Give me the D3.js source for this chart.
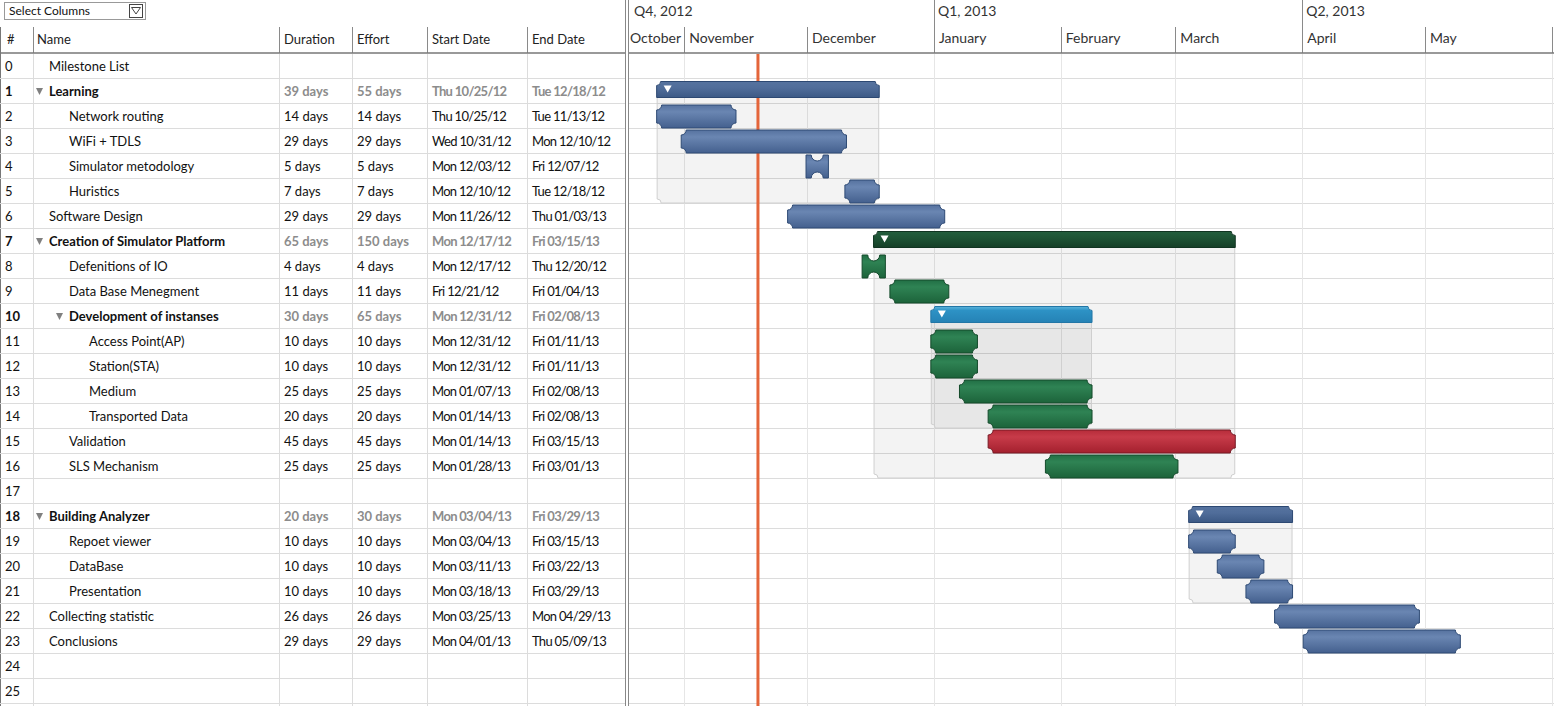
<!DOCTYPE html>
<html>
<head>
<meta charset="utf-8">
<script src="https://cdn.jsdelivr.net/npm/d3@7"></script>
<style>
  html, body { margin: 0; padding: 0; background: #fff; }
  svg { display: block; font-family: Lato, "Open Sans", sans-serif; }
</style>
</head>
<body>
<svg id="chart" width="1554" height="706"></svg>
<script>
// ---------------- DATA ----------------
const rowIds = d3.range(26);
const names = ["Milestone List","Learning","Network routing","WiFi + TDLS","Simulator metodology","Huristics",
  "Software Design","Creation of Simulator Platform","Defenitions of IO","Data Base Menegment",
  "Development of instanses","Access Point(AP)","Station(STA)","Medium","Transported Data","Validation",
  "SLS Mechanism","","Building Analyzer","Repoet viewer","DataBase","Presentation","Collecting statistic",
  "Conclusions","",""];
const levels = [0,0,1,1,1,1,0,0,1,1,1,2,2,2,2,1,1,0,0,1,1,1,0,0,0,0];
const summaryRows = [1,7,10,18];
const durations = ["","39 days","14 days","29 days","5 days","7 days","29 days","65 days","4 days","11 days",
  "30 days","10 days","10 days","25 days","20 days","45 days","25 days","","20 days","10 days","10 days",
  "10 days","26 days","29 days","",""];
const efforts = ["","55 days","14 days","29 days","5 days","7 days","29 days","150 days","4 days","11 days",
  "65 days","10 days","10 days","25 days","20 days","45 days","25 days","","30 days","10 days","10 days",
  "10 days","26 days","29 days","",""];
const startLabels = ["","Thu 10/25/12","Thu 10/25/12","Wed 10/31/12","Mon 12/03/12","Mon 12/10/12","Mon 11/26/12",
  "Mon 12/17/12","Mon 12/17/12","Fri 12/21/12","Mon 12/31/12","Mon 12/31/12","Mon 12/31/12","Mon 01/07/13",
  "Mon 01/14/13","Mon 01/14/13","Mon 01/28/13","","Mon 03/04/13","Mon 03/04/13","Mon 03/11/13","Mon 03/18/13",
  "Mon 03/25/13","Mon 04/01/13","",""];
const endLabels = ["","Tue 12/18/12","Tue 11/13/12","Mon 12/10/12","Fri 12/07/12","Tue 12/18/12","Thu 01/03/13",
  "Fri 03/15/13","Thu 12/20/12","Fri 01/04/13","Fri 02/08/13","Fri 01/11/13","Fri 01/11/13","Fri 02/08/13",
  "Fri 02/08/13","Fri 03/15/13","Fri 03/01/13","","Fri 03/29/13","Fri 03/15/13","Fri 03/22/13","Fri 03/29/13",
  "Mon 04/29/13","Thu 05/09/13","",""];
// bar extents as drawn in the chart (end is exclusive, UTC)
const barStart = [null,"2012-10-25","2012-10-25","2012-10-31","2012-11-30T12:00","2012-12-10","2012-11-26",
  "2012-12-17","2012-12-14T05:00","2012-12-21","2012-12-31","2012-12-31","2012-12-31","2013-01-07",
  "2013-01-14","2013-01-14","2013-01-28",null,"2013-03-04","2013-03-04","2013-03-11","2013-03-18",
  "2013-03-25","2013-04-01",null,null];
const barEnd = [null,"2012-12-19","2012-11-14","2012-12-11","2012-12-06T14:00","2012-12-19","2013-01-04",
  "2013-03-16","2012-12-20T12:00","2013-01-05","2013-02-09","2013-01-12","2013-01-12","2013-02-09",
  "2013-02-09","2013-03-16","2013-03-02",null,"2013-03-30","2013-03-16","2013-03-23","2013-03-30",
  "2013-04-30","2013-05-10",null,null];
const barColor = [null,"blueSum","blue","blue","blue","blue","blue","greenSum","green","green","tealSum",
  "green","green","green","green","red","green",null,"blueSum","blue","blue","blue","blue","blue",null,null];
const todayDate = "2012-11-19";
const columnHeaders = ["#","Name","Duration","Effort","Start Date","End Date"];

// ---------------- SETUP ----------------
const svg = d3.select("#chart");
const W = 1554, H = 706;
const parseD = s => new Date(s.length === 10 ? s + "T00:00:00Z" : s + ":00Z");

const x = d3.scaleUtc()
  .domain([new Date(Date.UTC(2012,10,1)), new Date(Date.UTC(2013,4,1))])
  .range([684.3, 1425]);
const y = d3.scaleBand().domain(rowIds).range([54, 54 + 25 * rowIds.length]);
const rowH = y.bandwidth();

const ganttL = 629, ganttR = W;
const colLines = [33.5, 279.5, 352.5, 427.5, 527.5];
const colTextX = [5, 37, 284, 357, 432, 532];

// gradients
const defs = svg.append("defs");
const grads = {
  blue:     [["0%","#56729f"],["30%","#6a86b2"],["100%","#44608e"]],
  blueSum:  [["0%","#56739f"],["40%","#506d9a"],["100%","#3c5985"]],
  green:    [["0%","#216f45"],["30%","#2f8354"],["100%","#1c633a"]],
  greenSum: [["0%","#235e3d"],["40%","#1e5435"],["100%","#153f27"]],
  tealSum:  [["0%","#5cb4dc"],["25%","#2d92c5"],["100%","#2582b5"]],
  red:      [["0%","#b62c3a"],["30%","#c73b49"],["100%","#a4202e"]]
};
const strokes = {blue:"#2f4b75", blueSum:"#2c4872", green:"#144b2b", greenSum:"#103421", tealSum:"#2276a6", red:"#761a25"};
Object.entries(grads).forEach(([k, stops]) => {
  const g = defs.append("linearGradient").attr("id", "g-" + k).attr("x1",0).attr("y1",0).attr("x2",0).attr("y2",1);
  stops.forEach(([o,c]) => g.append("stop").attr("offset", o).attr("stop-color", c));
});
defs.append("clipPath").attr("id","ganttClip").append("rect")
  .attr("x", ganttL).attr("y", 0).attr("width", ganttR - ganttL).attr("height", H);

// ---------------- TABLE ----------------
const table = svg.append("g");
// Select Columns box
table.append("rect").attr("x",4.5).attr("y",2.5).attr("width",141).attr("height",17)
  .attr("fill","#fff").attr("stroke","#999");
table.append("text").attr("x",9).attr("y",11).attr("dy","0.35em")
  .attr("font-size",12).attr("fill","#111").text("Select Columns");
table.append("rect").attr("x",129.5).attr("y",4.5).attr("width",13).attr("height",13)
  .attr("fill","#fff").attr("stroke","#444");
table.append("path").attr("d","M131.5,7.5H140.5L136,14Z").attr("fill","none").attr("stroke","#444");

// row lines (table + gantt)
const grid = svg.append("g");
grid.selectAll("line.row").data(rowIds).join("line")
  .attr("x1", 0).attr("x2", W)
  .attr("y1", d => y(d) + rowH - 0.5).attr("y2", d => y(d) + rowH - 0.5)
  .attr("stroke", "#dcdcdc");
// table column lines body
grid.selectAll("line.col").data(colLines).join("line")
  .attr("x1", d => d).attr("x2", d => d).attr("y1", 54).attr("y2", H)
  .attr("stroke", "#dcdcdc");
// header column lines
table.selectAll("line.hcol").data(colLines).join("line")
  .attr("x1", d => d).attr("x2", d => d).attr("y1", 27).attr("y2", 53)
  .attr("stroke", "#8a8a8a");
table.append("line").attr("x1",0.5).attr("x2",0.5).attr("y1",27).attr("y2",H).attr("stroke","#777");
// header labels
table.selectAll("text.hdr").data(columnHeaders).join("text")
  .attr("x", (d,i) => colTextX[i] + (i === 0 ? 2 : 0)).attr("y", 39).attr("dy","0.35em")
  .attr("font-size", 13).attr("fill", "#222").text(d => d);

// table rows
const isSum = i => summaryRows.includes(i);
const rows = table.selectAll("g.trow").data(rowIds).join("g")
  .attr("transform", d => `translate(0,${y(d) + rowH / 2})`);
rows.append("text").attr("x", colTextX[0]).attr("dy","0.35em").attr("font-size",13)
  .attr("font-weight", d => isSum(d) ? "bold" : "normal").attr("fill","#111").text(d => d);
rows.append("text").attr("x", d => 49 + 20 * levels[d]).attr("dy","0.35em").attr("font-size",13)
  .attr("font-weight", d => isSum(d) ? "bold" : "normal").attr("fill","#111").text(d => names[d]);
rows.filter(d => isSum(d)).append("path")
  .attr("d", d => { const tx = 36 + 20 * levels[d]; return `M${tx},-3.5H${tx+7}L${tx+3.5},3.5Z`; })
  .attr("fill", "#808080");
const cellCols = [[durations,2,0],[efforts,3,0],[startLabels,4,-0.7],[endLabels,5,-0.7]];
cellCols.forEach(([arr, ci, ls]) => {
  rows.append("text").attr("x", colTextX[ci]).attr("dy","0.35em").attr("font-size",13)
    .attr("letter-spacing", ls)
    .attr("font-weight", d => isSum(d) ? "bold" : "normal")
    .attr("fill", d => isSum(d) ? "#8c8c8c" : "#111").text(d => arr[d]);
});

// ---------------- GANTT ----------------
const gantt = svg.append("g").attr("clip-path","url(#ganttClip)");
const months = d3.utcMonth.range(new Date(Date.UTC(2012,9,1)), new Date(Date.UTC(2013,6,1)));
const quarters = d3.utcMonth.every(3).range(new Date(Date.UTC(2012,9,1)), new Date(Date.UTC(2013,6,1)));

// body month grid lines
gantt.selectAll("line.mgrid").data(months).join("line")
  .attr("x1", d => Math.round(x(d)) + 0.5).attr("x2", d => Math.round(x(d)) + 0.5)
  .attr("y1", 54).attr("y2", H).attr("stroke", "#e6e6e6");

// header month lines + labels
gantt.selectAll("line.mh").data(months).join("line")
  .attr("x1", d => Math.round(x(d)) + 0.5).attr("x2", d => Math.round(x(d)) + 0.5)
  .attr("y1", 27).attr("y2", 53).attr("stroke", "#8a8a8a");
gantt.selectAll("line.qh").data(quarters).join("line")
  .attr("x1", d => Math.round(x(d)) + 0.5).attr("x2", d => Math.round(x(d)) + 0.5)
  .attr("y1", 0).attr("y2", 27).attr("stroke", "#8a8a8a");
gantt.selectAll("text.mt").data(months.filter(d => x(d) + 5 < W - 30)).join("text")
  .attr("x", d => Math.max(x(d) + 5, 630)).attr("y", 38).attr("dy","0.35em")
  .attr("font-size", 14).attr("fill", "#333").text(d3.utcFormat("%B"));
const qFmt = d => `Q${Math.floor(d.getUTCMonth() / 3) + 1}, ${d.getUTCFullYear()}`;
gantt.selectAll("text.qt").data(quarters.filter(d => x(d) + 4 < W - 30)).join("text")
  .attr("x", d => Math.max(x(d) + 4, 634)).attr("y", 11).attr("dy","0.35em")
  .attr("font-size", 14).attr("fill", "#333").text(qFmt);

// group shaded boxes
const groups = summaryRows.map(r => {
  let last = r;
  while (last + 1 < levels.length && levels[last + 1] > levels[r] && names[last + 1] !== "") last++;
  return {row: r, last};
});
const boxPath = (x0, x1, y0, y1, r) =>
  `M${x0},${y0}H${x1}V${y1-r}A${r},${r} 0 0 0 ${x1-r},${y1}H${x0+r}A${r},${r} 0 0 0 ${x0},${y1-r}Z`;
gantt.selectAll("path.grp").data(groups).join("path")
  .attr("d", g => {
    const x0 = x(parseD(barStart[g.row])) + 1, x1 = x(parseD(barEnd[g.row])) - 1.5;
    return boxPath(x0 + 0.5, x1 - 0.5, y(g.row) + 18.5, y(g.last) + rowH - 1, 4);
  })
  .attr("fill", "rgba(0,0,0,0.047)").attr("stroke", "#cfcfcf");

// today line
gantt.append("line")
  .attr("x1", x(parseD(todayDate))).attr("x2", x(parseD(todayDate)))
  .attr("y1", 54).attr("y2", H).attr("stroke", "#e4653a").attr("stroke-width", 3);

// bars
const taskPath = (x0, x1, y0, y1, r) => {
  if (x1 - x0 < 30) {
    const cx = (x0 + x1) / 2, rr = 6;
    return `M${x0},${y0}H${cx-rr}A${rr},${rr} 0 0 0 ${cx+rr},${y0}H${x1}V${y1}H${cx+rr}A${rr},${rr} 0 0 0 ${cx-rr},${y1}H${x0}Z`;
  }
  return `M${x0+r},${y0}H${x1-r}A${r},${r} 0 0 0 ${x1},${y0+r}V${y1-r}A${r},${r} 0 0 0 ${x1-r},${y1}` +
    `H${x0+r}A${r},${r} 0 0 0 ${x0},${y1-r}V${y0+r}A${r},${r} 0 0 0 ${x0+r},${y0}Z`;
};
const sumPath = (x0, x1, y0, y1, r) =>
  `M${x0+r},${y0}H${x1-r}A${r},${r} 0 0 0 ${x1},${y0+r}V${y1}H${x0}V${y0+r}A${r},${r} 0 0 0 ${x0+r},${y0}Z`;

const barRows = rowIds.filter(i => barStart[i]);
const bars = gantt.selectAll("g.bar").data(barRows).join("g");
bars.append("path")
  .attr("d", i => {
    const x0 = x(parseD(barStart[i])) + 1, x1 = x(parseD(barEnd[i])) - 1.5;
    return isSum(i) ? sumPath(x0, x1, y(i) + 2.5, y(i) + 18.5, 4)
                    : taskPath(x0, x1, y(i) + 1, y(i) + 24, 5);
  })
  .attr("fill", i => `url(#g-${barColor[i]})`)
  .attr("stroke", i => strokes[barColor[i]]).attr("stroke-width", 1);
bars.filter(i => isSum(i)).append("path")
  .attr("d", i => { const tx = x(parseD(barStart[i])) + 8, ty = y(i) + 6.5; return `M${tx},${ty}H${tx+8}L${tx+4},${ty+7}Z`; })
  .attr("fill", "#fff");

// header bottom line and divider
svg.append("line").attr("x1",0).attr("x2",W).attr("y1",53).attr("y2",53).attr("stroke","#777").attr("stroke-width",1.5);
svg.append("line").attr("x1",625.5).attr("x2",625.5).attr("y1",0).attr("y2",H).attr("stroke","#888");
svg.append("line").attr("x1",628.5).attr("x2",628.5).attr("y1",0).attr("y2",H).attr("stroke","#888");
svg.append("rect").attr("x",626).attr("y",0).attr("width",2).attr("height",H).attr("fill","#fff");
</script>
</body>
</html>
